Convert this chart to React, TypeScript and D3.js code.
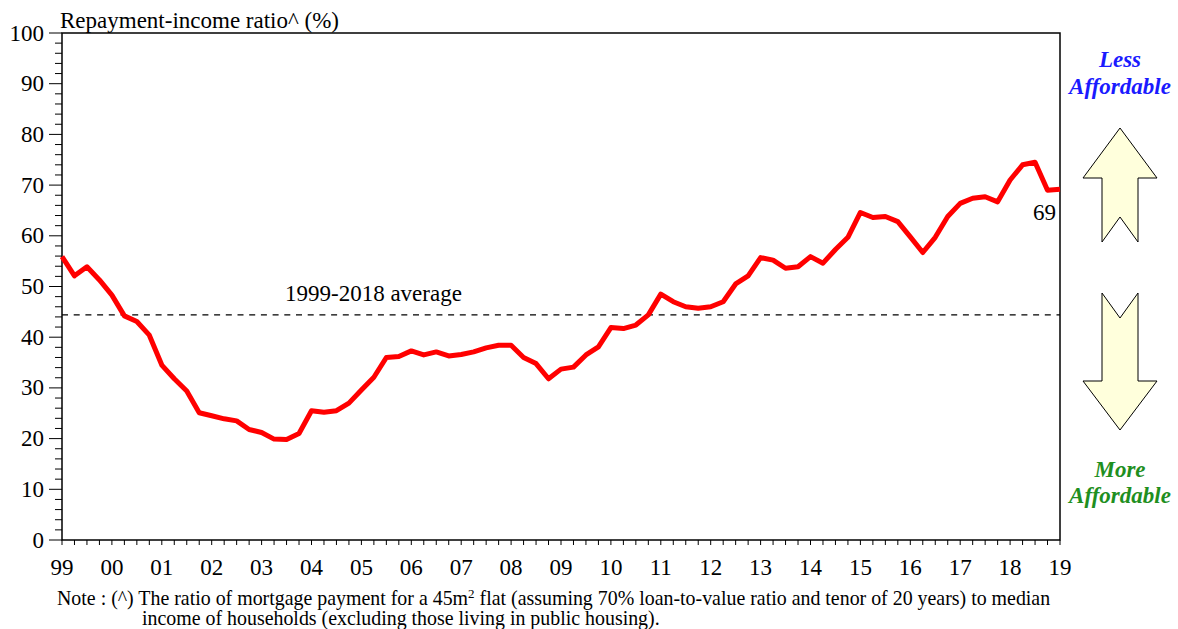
import React from "react";
import * as d3 from "d3";

// quarterly, 1999 Q1 .. 2019 Q1
const startYear = 1999;
const ratio = [
  55.9, 52.1, 53.9, 51.3, 48.3, 44.2, 43.1, 40.4, 34.5, 31.8, 29.4, 25.1,
  24.5, 23.9, 23.5, 21.8, 21.2, 19.9, 19.8, 21.0, 25.5, 25.2, 25.5, 27.0,
  29.6, 32.1, 36.0, 36.2, 37.3, 36.5, 37.1, 36.3, 36.6, 37.1, 37.9, 38.4,
  38.4, 36.0, 34.8, 31.8, 33.7, 34.1, 36.5, 38.1, 41.9, 41.7, 42.4, 44.4,
  48.5, 47.0, 46.0, 45.7, 46.0, 47.0, 50.5, 52.1, 55.7, 55.2, 53.6, 53.9,
  55.9, 54.6, 57.3, 59.7, 64.6, 63.6, 63.8, 62.8, 59.8, 56.7, 59.7, 63.8,
  66.4, 67.4, 67.7, 66.7, 71.0, 74.0, 74.5, 69.0, 69.2,
];
const average = 44.4;
const yearLabels = [
  "99", "00", "01", "02", "03", "04", "05", "06", "07", "08", "09",
  "10", "11", "12", "13", "14", "15", "16", "17", "18", "19",
];
const yTicks = [0, 10, 20, 30, 40, 50, 60, 70, 80, 90, 100];

const W = 1178;
const H = 629;
const margin = { top: 33, right: 118, bottom: 89, left: 62 };
const serif = "'Liberation Serif', 'Times New Roman', serif";

const App = () => {
  const x = d3
    .scaleLinear()
    .domain([startYear, startYear + 20])
    .range([margin.left, W - margin.right]);
  const y = d3
    .scaleLinear()
    .domain([0, 100])
    .range([H - margin.bottom, margin.top]);

  const pts = ratio.map((v, i) => ({ t: startYear + i / 4, v }));
  const line = d3
    .line<{ t: number; v: number }>()
    .x((d) => x(d.t))
    .y((d) => y(d.v));

  const x0 = x.range()[0];
  const x1 = x.range()[1];
  const y0 = y.range()[0];
  const y1 = y.range()[1];

  const minorY = d3.range(0, 101, 2);
  const quarters = d3.range(0, 81).map((i) => startYear + i / 4);
  const last = pts[pts.length - 1];

  // arrows on the right
  const ax = 1120;
  const upArrow = [
    [ax, 128],
    [ax + 37, 178],
    [ax + 18, 178],
    [ax + 18, 242],
    [ax, 217],
    [ax - 18, 242],
    [ax - 18, 178],
    [ax - 37, 178],
  ];
  const downArrow = [
    [ax - 18, 293],
    [ax, 318],
    [ax + 18, 293],
    [ax + 18, 381],
    [ax + 37, 381],
    [ax, 430],
    [ax - 37, 381],
    [ax - 18, 381],
  ];

  return (
    <svg
      width={W}
      height={H}
      style={{ position: "absolute", left: 0, top: 0, background: "#fff" }}
      fontFamily={serif}
    >
      {/* title */}
      <text x={60} y={28} fontSize={23}>
        Repayment-income ratio^ (%)
      </text>

      {/* y ticks */}
      {minorY.map((v) => (
        <line
          key={"my" + v}
          x1={x0 - (v % 10 === 0 ? 13 : 7)}
          x2={x0}
          y1={y(v)}
          y2={y(v)}
          stroke="#000"
          strokeWidth={1}
        />
      ))}
      {yTicks.map((v) => (
        <text key={"ty" + v} x={44} y={y(v) + 7.5} fontSize={23} textAnchor="end">
          {v}
        </text>
      ))}

      {/* x ticks */}
      {quarters.map((q, i) => (
        <line
          key={"q" + i}
          x1={x(q)}
          x2={x(q)}
          y1={y0}
          y2={y0 + 5}
          stroke="#000"
          strokeWidth={1}
        />
      ))}
      {yearLabels.map((l, i) => (
        <text
          key={"tx" + l}
          x={x(startYear + i)}
          y={575}
          fontSize={23}
          textAnchor="middle"
        >
          {l}
        </text>
      ))}

      {/* frame */}
      <rect
        x={x0}
        y={y1}
        width={x1 - x0}
        height={y0 - y1}
        fill="none"
        stroke="#000"
        strokeWidth={1.5}
      />

      {/* average */}
      <line
        x1={x0}
        x2={x1}
        y1={y(average)}
        y2={y(average)}
        stroke="#000"
        strokeWidth={1.3}
        strokeDasharray="6,5.7"
      />
      <text x={285} y={301} fontSize={23}>
        1999-2018 average
      </text>

      {/* series */}
      <path
        d={line(pts) || ""}
        fill="none"
        stroke="#ff0000"
        strokeWidth={5}
        strokeLinejoin="round"
      />
      <text x={x(last.t) - 4} y={y(last.v) + 31} fontSize={23} textAnchor="end">
        {Math.round(last.v)}
      </text>

      {/* affordability arrows */}
      <text
        x={ax}
        y={67}
        fontSize={23}
        fontWeight="bold"
        fontStyle="italic"
        fill="#1a1aff"
        textAnchor="middle"
      >
        <tspan x={ax}>Less</tspan>
        <tspan x={ax} dy={27}>
          Affordable
        </tspan>
      </text>
      <polygon
        points={upArrow.map((p) => p.join(",")).join(" ")}
        fill="#ffffdc"
        stroke="#000"
        strokeWidth={1}
      />
      <polygon
        points={downArrow.map((p) => p.join(",")).join(" ")}
        fill="#ffffdc"
        stroke="#000"
        strokeWidth={1}
      />
      <text
        x={ax}
        y={477}
        fontSize={23}
        fontWeight="bold"
        fontStyle="italic"
        fill="#1f8f1f"
        textAnchor="middle"
      >
        <tspan x={ax}>More</tspan>
        <tspan x={ax} dy={26}>
          Affordable
        </tspan>
      </text>

      {/* note */}
      <text x={57} y={605} fontSize={19.9}>
        Note : (^) The ratio of mortgage payment for a 45m
        <tspan dy={-7} fontSize={13}>
          2
        </tspan>
        <tspan dy={7}> flat (assuming 70% loan-to-value ratio and tenor of 20 years) to median</tspan>
      </text>
      <text x={142} y={625} fontSize={19.9}>
        income of households (excluding those living in public housing).
      </text>
    </svg>
  );
};

export default App;
